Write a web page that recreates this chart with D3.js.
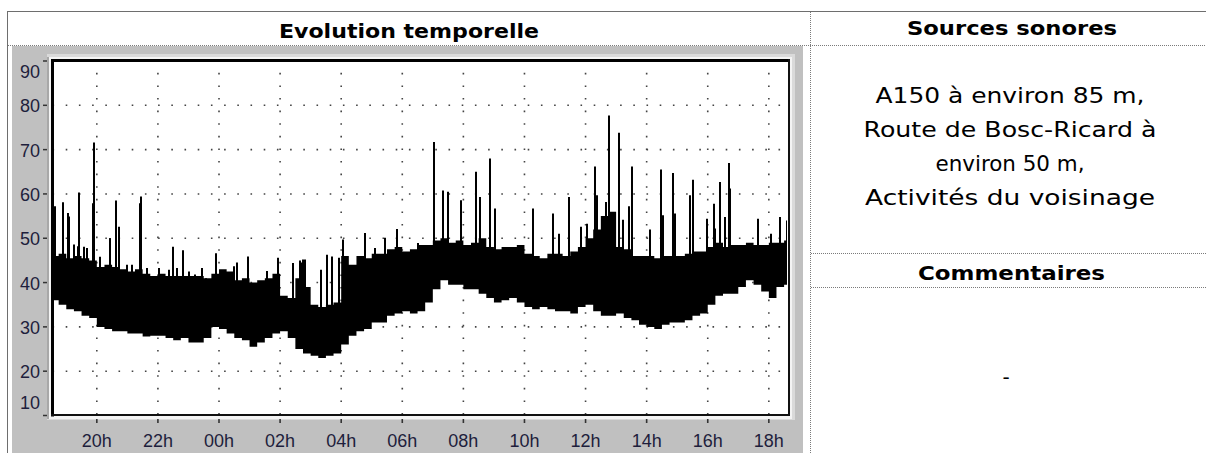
<!DOCTYPE html>
<html><head><meta charset="utf-8">
<script src="https://cdn.jsdelivr.net/npm/d3@7"></script>
<style>html,body{margin:0;padding:0;background:#fff;} svg{display:block}</style>
</head><body>
<svg id="c" width="1206" height="453"></svg>
<script>
// ---- data ----
const startHour = 18.5;      // first bin start (18:30)
const endHour = 42.66;       // end of the time axis (18:40 next day)
const binHours = 0.25;       // 15-minute bins
const bandHigh = [46,46.5,45.5,46,45.5,45,43.5,44,43.5,43,42.5,43,42,41.5,42,41.5,41.5,41.5,41.5,41.5,
  41,42,43,42.5,40.5,41,40,40.5,41,42,37,36.5,41,39,35,34.5,35,35.5,46,44,
  46,45.5,46.5,46.5,47.5,48,47,47.5,48.5,48.5,49.5,50,49,49.5,48.5,49,50,48,47.5,48,
  48,48.5,46.5,46,45.5,46.5,46.5,46,47,48,50,52,55,56,48,47.5,46,46,46,45.5,
  46,46,46,46.5,47,47,48,49,48,48.5,48.5,49,48.5,48.5,49,49,49.5];
const bandLow = [36,35,34,33.5,32.5,32,30,29.5,29,29,28.5,28.5,27.8,28,28,27.5,27,27.5,26.5,26.5,
  27.5,30,29.5,28.5,27.5,27,25.5,26.5,27.5,28.5,29,27.5,25,24,23.5,23,23.5,24,26,28,
  29,29.5,31,31,32.5,33,33.5,33,33.5,35.5,38.5,40.5,39.5,39.5,38.5,38.5,37.5,36.5,35.5,36,
  36.5,35.5,34.5,34,34.5,34,33.5,33.5,33,34.5,35,33.5,32.5,32.5,33,32,31.5,30.5,30,29.5,
  30.5,31,31,31.5,32.5,33,35,37,37.5,37.5,39,40.5,39.5,38,36.5,39,39.5];
const spikeHours = [18.63,18.88,19.05,19.10,19.42,19.58,19.86,19.91,20.11,20.44,20.62,20.73,21.41,21.45,22.50,22.82,23.89,
  24.60,24.95,25.57,25.93,26.43,26.75,27.33,27.52,27.70,27.92,28.07,28.78,29.11,29.44,29.82,30.53,
  31.05,31.33,31.49,31.93,32.42,32.56,32.88,33.05,34.29,34.92,35.13,35.47,35.84,36.06,36.31,36.39,36.67,36.77,
  37.08,37.24,37.41,37.51,38.10,38.48,38.53,38.86,38.94,39.43,39.52,39.98,40.20,40.25,40.41,40.58,40.69,40.74,
  41.65,42.06,42.35,42.60,
  19.24,19.40,19.67,20.43,20.98,21.15,21.64,22.02,22.35,22.62,23.01,23.23,23.45,23.56,24.49,26.66,26.70,26.80];
const spikePeaks = [57.2,58.1,55.7,54.9,60.3,48.1,57.9,71.6,45.8,50,58.5,52.6,57.9,59.4,48.1,47.3,46.6,
  44.5,45.9,42.6,45.6,44.4,45.2,42.9,46.3,45.9,45.6,49.7,51.2,47.8,50.1,52.1,48.9,
  71.7,60.8,60.5,58.6,65,59.3,68,56.7,56.7,55.6,51,59.3,52.6,53.3,66.2,59.7,58.2,77.7,
  73.8,54.2,57.2,66.2,52,65.5,55.2,64.7,55.6,59.7,63.2,54.4,57.8,52.2,62.7,54.8,67,61.2,
  54.4,51,54.8,54,
  48.6,48.2,47.8,50,44,44,43.3,43.3,42.9,43.3,42.5,41.8,43.3,41,43.7,45,44.5,45.2];
const xTickHours = [20,22,24,26,28,30,32,34,36,38,40,42];
const xTickLabels = ["20h","22h","00h","02h","04h","06h","08h","10h","12h","14h","16h","18h"];
const yTicks = [10,20,30,40,50,60,70,80,90];
const panelTitles = ["Evolution temporelle","Sources sonores","Commentaires"];
const sourceLines = ["A150 à environ 85 m,","Route de Bosc-Ricard à","environ 50 m,","Activités du voisinage"];
const commentText = "-";

// ---- layout ----
const svg = d3.select("#c");
const W = 1206, H = 453;
const P = {l:51, r:789, t:59, b:415.5};
const x = d3.scaleLinear().domain([startHour, endHour]).range([P.l, P.r]);
const y = d3.scaleLinear().domain([10, 90]).range([415.5, 61]);
const dotted = "#7a7a7a";

// left panel background
svg.append("rect").attr("x",12).attr("y",46).attr("width",791).attr("height",H-46).attr("fill","#c0c0c0");
// outer border
svg.append("line").attr("x1",7).attr("x2",W).attr("y1",11.5).attr("y2",11.5).attr("stroke","#6e6e6e");
svg.append("line").attr("x1",7.5).attr("x2",7.5).attr("y1",11).attr("y2",H).attr("stroke","#6e6e6e");
// dotted dividers
const dl = (x1,y1,x2,y2)=>svg.append("line").attr("x1",x1).attr("y1",y1).attr("x2",x2).attr("y2",y2)
  .attr("stroke",dotted).attr("stroke-dasharray","1 1");
dl(8,45.5,W,45.5);
dl(810.5,12,810.5,H);
dl(811,253.5,W,253.5);
dl(811,287.5,W,287.5);

// plot frame bevel
svg.append("rect").attr("x",47).attr("y",54).attr("width",748).attr("height",366).attr("fill","#dadada");
svg.append("rect").attr("x",47).attr("y",57).attr("width",4).attr("height",362).attr("fill","#a8a8a8");
svg.append("rect").attr("x",49).attr("y",57).attr("width",743).attr("height",362).attr("fill","#f4f4f4");
svg.append("rect").attr("x",P.l).attr("y",P.t).attr("width",P.r-P.l).attr("height",P.b-P.t).attr("fill","#fff");

// grid
const g = svg.append("g");
yTicks.filter(v=>v>10 && v<90).forEach(v=>{
  g.append("line").attr("x1",P.l+1.5).attr("x2",P.r).attr("y1",y(v)).attr("y2",y(v))
   .attr("stroke","#444").attr("stroke-width",1.6).attr("stroke-dasharray","1.6 11.6");
});
xTickHours.forEach(h=>{
  g.append("line").attr("x1",x(h)).attr("x2",x(h)).attr("y1",60.2).attr("y2",P.b)
   .attr("stroke","#444").attr("stroke-width",1.6).attr("stroke-dasharray","1.6 11");
});

// data
svg.append("clipPath").attr("id","pc").append("rect")
  .attr("x",P.l+2).attr("y",P.t+2).attr("width",P.r-P.l-4).attr("height",P.b-P.t-3);
const pts = bandHigh.map((h,i)=>({t:startHour+i*binHours, hi:h, lo:bandLow[i]}));
pts.push({t:startHour+bandHigh.length*binHours, hi:bandHigh[bandHigh.length-1], lo:bandLow[bandLow.length-1]});
const dg = svg.append("g").attr("clip-path","url(#pc)");
dg.append("path").datum(pts)
  .attr("d", d3.area().curve(d3.curveStepAfter).x(d=>x(d.t)).y0(d=>y(d.lo)).y1(d=>y(d.hi)))
  .attr("fill","#000");
spikeHours.forEach((t,k)=>{
  const i = Math.max(0, Math.min(bandHigh.length-1, Math.floor((t-startHour)/binHours)));
  const base = (bandHigh[i]+bandLow[i])/2;
  const xp = Math.round(x(t));
  dg.append("line").attr("x1",xp).attr("x2",xp).attr("y1",y(base)).attr("y2",y(spikePeaks[k]))
    .attr("stroke","#000").attr("stroke-width",2);
});

// frame lines
svg.append("path").attr("d",`M${P.l+1.5},${P.b+1}V${P.t+1.5}H${P.r+1}`).attr("fill","none")
  .attr("stroke","#000").attr("stroke-width",3);
svg.append("path").attr("d",`M${P.l},${P.b-0.5}H${P.r}V${P.t}`).attr("fill","none")
  .attr("stroke","#111").attr("stroke-width",2);

// axes labels
const lblColor = "#1e1e3c";
yTicks.forEach(v=>{
  const cy = Math.max(P.t+12.5, Math.min(P.b-13, y(v)+1));
  svg.append("text").attr("x",40).attr("y",cy).attr("text-anchor","end").attr("dominant-baseline","central")
    .attr("font-family","Liberation Sans, Arial, sans-serif").attr("font-size",18).attr("fill",lblColor).text(v);
  svg.append("line").attr("x1",43).attr("x2",47).attr("y1",y(v)).attr("y2",y(v)).attr("stroke","#333").attr("stroke-width",1.5);
});
xTickHours.forEach((h,i)=>{
  svg.append("line").attr("x1",x(h)).attr("x2",x(h)).attr("y1",419).attr("y2",423).attr("stroke","#333").attr("stroke-width",1.6);
  svg.append("text").attr("x",x(h)).attr("y",446.5).attr("text-anchor","middle")
    .attr("font-family","Liberation Sans, Arial, sans-serif").attr("font-size",18).attr("fill",lblColor).text(xTickLabels[i]);
});

// titles
const title = (t,cx,by,len)=>svg.append("text").attr("x",cx).attr("y",by).attr("text-anchor","middle")
  .attr("font-family","DejaVu Sans, sans-serif").attr("font-weight","bold").attr("font-size",20)
  .attr("textLength",len).attr("lengthAdjust","spacingAndGlyphs").attr("fill","#000").text(t);
title(panelTitles[0],409,37.5,260);
title(panelTitles[1],1012,35,210);
title(panelTitles[2],1011.5,279.5,187);

const lineLens = [269,293,149,290];
const lineBase = [103,137,171,205];
sourceLines.forEach((t,i)=>{
  svg.append("text").attr("x",1010).attr("y",lineBase[i]).attr("text-anchor","middle")
   .attr("font-family","DejaVu Sans, sans-serif").attr("font-size",21)
   .attr("textLength",lineLens[i]).attr("lengthAdjust","spacingAndGlyphs").attr("fill","#000").text(t);
});
svg.append("text").attr("x",1006).attr("y",384).attr("text-anchor","middle")
  .attr("font-family","DejaVu Sans, sans-serif").attr("font-size",20).attr("fill","#000").text(commentText);
</script>
</body></html>
